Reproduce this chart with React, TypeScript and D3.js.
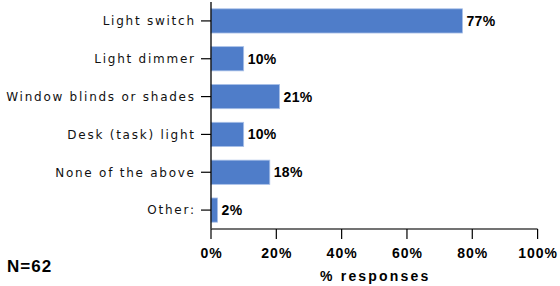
import React from "react";
import * as d3 from "d3";

const categories = ["Light switch", "Light dimmer", "Window blinds or shades", "Desk (task) light", "None of the above", "Other:"];
const values = [77, 10, 21, 10, 18, 2];
const xTicks = [0, 20, 40, 60, 80, 100];
const axisTitle = "% responses";
const note = "N=62";

export default function App() {
  const W = 560, H = 286;
  const x = d3.scaleLinear().domain([0, 100]).range([211, 537.6]);
  const y = d3.scaleBand().domain(categories).range([2, 229]).paddingInner(0.36).paddingOuter(0.18);
  const font = "Arial, 'Liberation Sans', sans-serif";
  const catFont = "'DejaVu Sans', Verdana, sans-serif";
  const ls = 1.75;
  return (
    <svg width={W} height={H} style={{ position: "absolute", left: 0, top: 0 }} fontFamily={font}>
      <rect width={W} height={H} fill="#fff" />
      {categories.map((c, i) => {
        const yy = y(c)!;
        const bw = y.bandwidth();
        return (
          <g key={c}>
            <rect x={x(0)} y={yy} width={x(values[i]) - x(0)} height={bw} fill="#4f7dc9" stroke="#a9c0e8" strokeWidth={0.8} />
            <text x={x(values[i]) + 4} y={yy + bw / 2} dy="0.36em" fontSize={14} fontWeight="bold" letterSpacing={0.3} fill="#000">{values[i]}%</text>
            <line x1={x(0) - 10} x2={x(0)} y1={yy + bw / 2} y2={yy + bw / 2} stroke="#000" strokeWidth={1.2} />
            <text x={x(0) - 17 + ls} y={yy + bw / 2} dy="0.36em" textAnchor="end" fontSize={12} letterSpacing={ls} fontFamily={catFont} fill="#111">{c}</text>
          </g>
        );
      })}
      <line x1={x(0)} x2={x(0)} y1={2} y2={229} stroke="#000" strokeWidth={1.3} />
      <line x1={x(0)} x2={x(100)} y1={229} y2={229} stroke="#444" strokeWidth={1.3} />
      {xTicks.map(t => (
        <g key={t}>
          <line x1={x(t)} x2={x(t)} y1={229} y2={239} stroke="#000" strokeWidth={1.2} />
          <text x={x(t) + 0.5} y={253} dy="0.35em" textAnchor="middle" fontSize={14} letterSpacing={1} fontWeight="bold">{t}%</text>
        </g>
      ))}
      <text x={(x(0) + x(100)) / 2 + 1} y={276} dy="0.35em" textAnchor="middle" fontSize={14} letterSpacing={2.2} fontWeight="bold">{axisTitle}</text>
      <text x={7} y={266} dy="0.36em" fontSize={17} letterSpacing={1} fontWeight="bold">{note}</text>
    </svg>
  );
}
